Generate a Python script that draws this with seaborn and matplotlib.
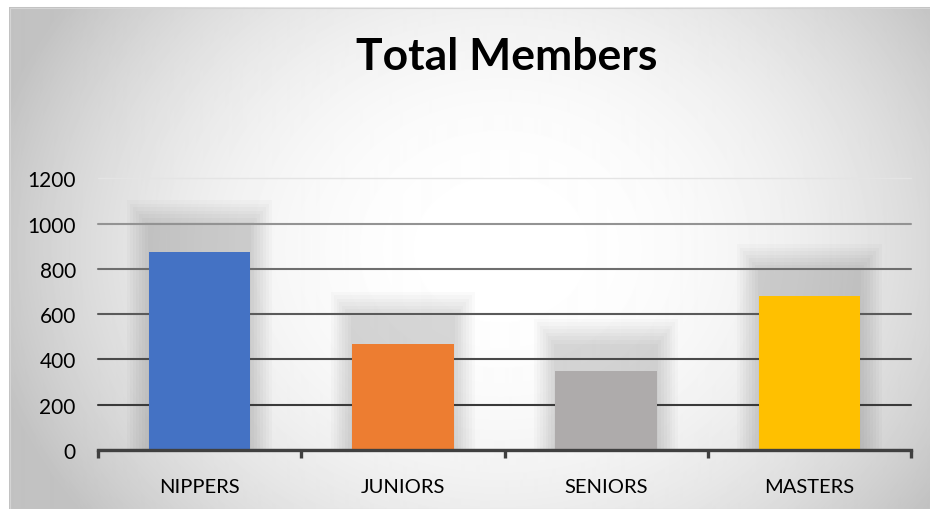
import numpy as np
import pandas as pd
import matplotlib
matplotlib.use("Agg")
import matplotlib.pyplot as plt
import seaborn as sns
from matplotlib.patches import Rectangle

# ---- data ----
categories = ["NIPPERS", "JUNIORS", "SENIORS", "MASTERS"]
members = [873, 470, 350, 680]
bar_colors = ["#4472C4", "#ED7D31", "#AEABAB", "#FFC000"]
y_ticks = [0, 200, 400, 600, 800, 1000, 1200]
title_text = "Total Members"

sns.set_theme(style="white")
plt.rcParams["font.family"] = ["Lato", "DejaVu Sans"]

W, H = 930, 510
fig = plt.figure(figsize=(W / 100, H / 100), dpi=100)
fig.patch.set_facecolor("white")

# ---- radial gradient background ----
yy, xx = np.mgrid[0:H, 0:W]
r = np.sqrt(((xx - 500) / 500.0) ** 2 + ((yy - 250) / 420.0) ** 2)
r = np.clip(r, 0, 1.05)
bg = 1.0 - 0.215 * r ** 2.3
bg[:8, :] = 1.0
bg[:, :9] = 1.0
ax_bg = fig.add_axes([0, 0, 1, 1])
ax_bg.imshow(bg, cmap="gray", vmin=0, vmax=1, extent=[0, W, H, 0],
             aspect="auto", interpolation="bilinear")
ax_bg.add_patch(Rectangle((9.5, 8.5), W - 10, H - 9, fill=False,
                          edgecolor="#d4d4d4", lw=0.8))
ax_bg.set_xlim(0, W)
ax_bg.set_ylim(H, 0)
ax_bg.axis("off")

# ---- main axes ----
left, right, bottom_px, top_px = 98, 911, 451, 179.3
ax = fig.add_axes([left / W, 1 - bottom_px / H, (right - left) / W,
                   (bottom_px - top_px) / H])
ax.patch.set_alpha(0)

df = pd.DataFrame({"category": categories, "members": members})
sns.barplot(data=df, x="category", y="members", hue="category",
            palette=bar_colors, width=0.5, saturation=1, legend=False,
            linewidth=0, ax=ax, zorder=3)

# soft shadows behind bars
for i, v in enumerate(members):
    n = 8
    for k in range(n):
        t = k / (n - 1)
        dx = 0.005 + 0.1 * t
        top = v + 120 + 110 * t
        ax.add_patch(Rectangle((i - 0.25 - dx, 0), 0.5 + 2 * dx, top,
                               facecolor="black", alpha=0.02, lw=0,
                               zorder=0.2))

ax.set_xlim(-0.5, 3.5)
ax.set_ylim(0, 1200)
ax.set_yticks(y_ticks)
ax.set_axisbelow(True)
ax.yaxis.grid(True)
ax.xaxis.grid(False)
grid_colors = ["#404040", "#3a3a3a", "#4a4a4a", "#5a5a5a", "#6e6e6e",
               "#939393", "#e4e4e4"]
grid_widths = [1.5, 1.5, 1.5, 1.5, 1.5, 1.5, 1.0]
for line, c, lw in zip(ax.get_ygridlines(), grid_colors, grid_widths):
    line.set_color(c)
    line.set_linewidth(lw)
    line.set_clip_on(False)

for s in ["left", "right", "top"]:
    ax.spines[s].set_visible(False)
ax.spines["bottom"].set_color("#404040")
ax.spines["bottom"].set_linewidth(2.4)
ax.spines["bottom"].set_zorder(4)

ax.set_xticks(np.arange(-0.5, len(categories)), minor=True)
ax.tick_params(axis="x", which="minor", length=6, width=2.4,
               color="#404040", direction="out", bottom=True)
ax.tick_params(axis="x", which="major", length=0, pad=20,
               labelsize=14.5, labelcolor="black")
ax.tick_params(axis="y", length=0, pad=16, labelsize=15, labelcolor="black")
ax.set_xlabel("")
ax.set_ylabel("")

fig.text(507 / W, 1 - 70 / H, title_text, ha="center", va="baseline",
         fontsize=32, fontweight="bold", color="black")

fig.savefig("out.png", dpi=100)
